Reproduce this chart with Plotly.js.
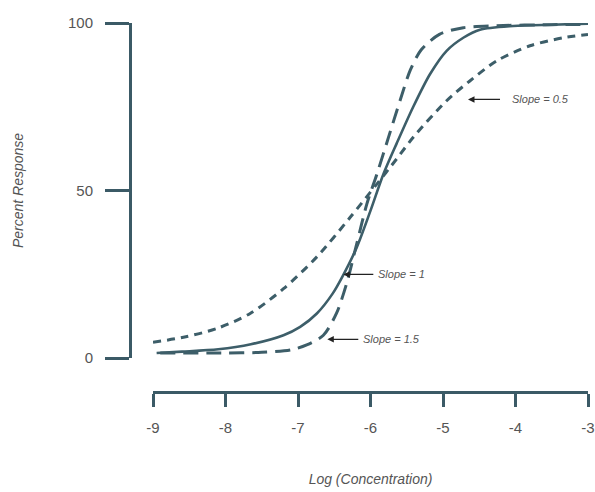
<!DOCTYPE html>
<html>
<head>
<meta charset="utf-8">
<script src="https://cdn.plot.ly/plotly-3.0.1.min.js"></script>
<style>html,body{margin:0;padding:0;background:#fff;}#chart{width:595px;height:492px;}</style>
</head>
<body>
<div id="chart"></div>
<script>
// Log (Concentration) values and Percent Response
const xSlope1 = [-8.95, -8.6, -8.1, -7.65, -7.2, -6.97, -6.74, -6.52, -6.38, -6.19, -6.0, -5.82, -5.64, -5.41, -5.18, -4.95, -4.72, -4.49, -4.03, -3.5, -3];
const ySlope1 = [1.5, 1.9, 2.6, 4.1, 6.8, 9.3, 13.3, 19.3, 24.6, 33, 44, 55, 64, 75, 84.7, 91.7, 95.6, 98, 99.1, 99.5, 99.8];

const xSlope05 = [-9, -8.58, -8.12, -7.66, -7.2, -6.74, -6.28, -5.91, -5.64, -5.41, -4.95, -4.63, -4.26, -3.8, -3.34, -3];
const ySlope05 = [4.7, 6.2, 8.8, 13.3, 20.7, 30.2, 42, 52, 59.4, 65.9, 76.8, 82.7, 88.7, 93.2, 95.6, 96.6];

const xSlope15 = [-8.9, -8, -7.5, -7.1, -6.88, -6.65, -6.47, -6.33, -6.19, -6.05, -5.91, -5.75, -5.59, -5.45, -5.3, -5.05, -4.72, -4.26, -3.5, -3];
const ySlope15 = [1.5, 1.5, 1.7, 2.4, 3.9, 6.8, 13.3, 22.2, 34.1, 46, 55, 66, 77, 86, 92, 96.6, 98.6, 99.2, 99.5, 99.6];

const xTicks = [-9, -8, -7, -6, -5, -4, -3];
const yTicks = [0, 50, 100];
const labels = ["Slope = 0.5", "Slope = 1", "Slope = 1.5"];

const curveColor = "#3d5e69";
const axisColor = "#3b5a66";
const labelFont = "Liberation Sans, Arial, sans-serif";

const traces = [
  {x: xSlope05, y: ySlope05, type: "scatter", mode: "lines", name: labels[0],
   line: {color: curveColor, width: 3, dash: "8px,6px", shape: "spline", smoothing: 0.8}},
  {x: xSlope1, y: ySlope1, type: "scatter", mode: "lines", name: labels[1],
   line: {color: curveColor, width: 2.6, shape: "spline", smoothing: 0.8}},
  {x: xSlope15, y: ySlope15, type: "scatter", mode: "lines", name: labels[2],
   line: {color: curveColor, width: 3, dash: "15px,8px", shape: "spline", smoothing: 0.8}}
];

// plot area: left 130, right 588, top 22.7, bottom 392
const plotW = 458, plotH = 369.3;
const layout = {
  width: 595, height: 492,
  margin: {l: 130, r: 7, t: 22.7, b: 100, pad: 0},
  paper_bgcolor: "#fff", plot_bgcolor: "#fff",
  showlegend: false,
  font: {family: "Liberation Sans, Arial, sans-serif", color: "#555"},
  xaxis: {
    domain: [(153 - 130) / plotW, 1],
    anchor: "free", position: 0,
    range: [-9, -3], tickvals: xTicks, ticktext: xTicks.map(String),
    showgrid: false, zeroline: false,
    showline: true, linecolor: axisColor, linewidth: 3,
    ticks: "outside", ticklen: 13, tickwidth: 3, tickcolor: axisColor,
    ticklabelstandoff: 8,
    tickfont: {size: 15, color: "#555"},
    automargin: false,
    title: {text: "Log (Concentration)", standoff: 39,
            font: {size: 14, color: "#555", family: labelFont, style: "italic"}}
  },
  yaxis: {
    domain: [(392 - 358) / plotH, 1],
    anchor: "free", position: 0,
    range: [0, 100], tickvals: yTicks, ticktext: yTicks.map(String),
    showgrid: false, zeroline: false,
    showline: true, linecolor: axisColor, linewidth: 3,
    ticks: "outside", ticklen: 24, tickwidth: 3, tickcolor: axisColor,
    ticklabelstandoff: 9,
    tickfont: {size: 15, color: "#555"},
    automargin: false,
    title: {text: "Percent Response", standoff: 40,
            font: {size: 14, color: "#555", family: labelFont, style: "italic"}}
  },
  annotations: [
    {x: -4.655, y: 77.2, xref: "x", yref: "y", text: labels[0], showarrow: true,
     ax: 32, ay: 0, xanchor: "left", yanchor: "middle", borderpad: 11,
     arrowhead: 2, arrowsize: 1, arrowwidth: 1.3, arrowcolor: "#222",
     font: {size: 11, color: "#555", family: labelFont, style: "italic"}},
    {x: -6.375, y: 24.96, xref: "x", yref: "y", text: labels[1], showarrow: true,
     ax: 30, ay: 0, xanchor: "left", yanchor: "middle", borderpad: 4,
     arrowhead: 2, arrowsize: 1, arrowwidth: 1.3, arrowcolor: "#222",
     font: {size: 11, color: "#555", family: labelFont, style: "italic"}},
    {x: -6.596, y: 5.58, xref: "x", yref: "y", text: labels[2], showarrow: true,
     ax: 31, ay: 0, xanchor: "left", yanchor: "middle", borderpad: 4,
     arrowhead: 2, arrowsize: 1, arrowwidth: 1.3, arrowcolor: "#222",
     font: {size: 11, color: "#555", family: labelFont, style: "italic"}}
  ]
};

Plotly.newPlot("chart", traces, layout, {displayModeBar: false, staticPlot: true});
</script>
</body>
</html>
